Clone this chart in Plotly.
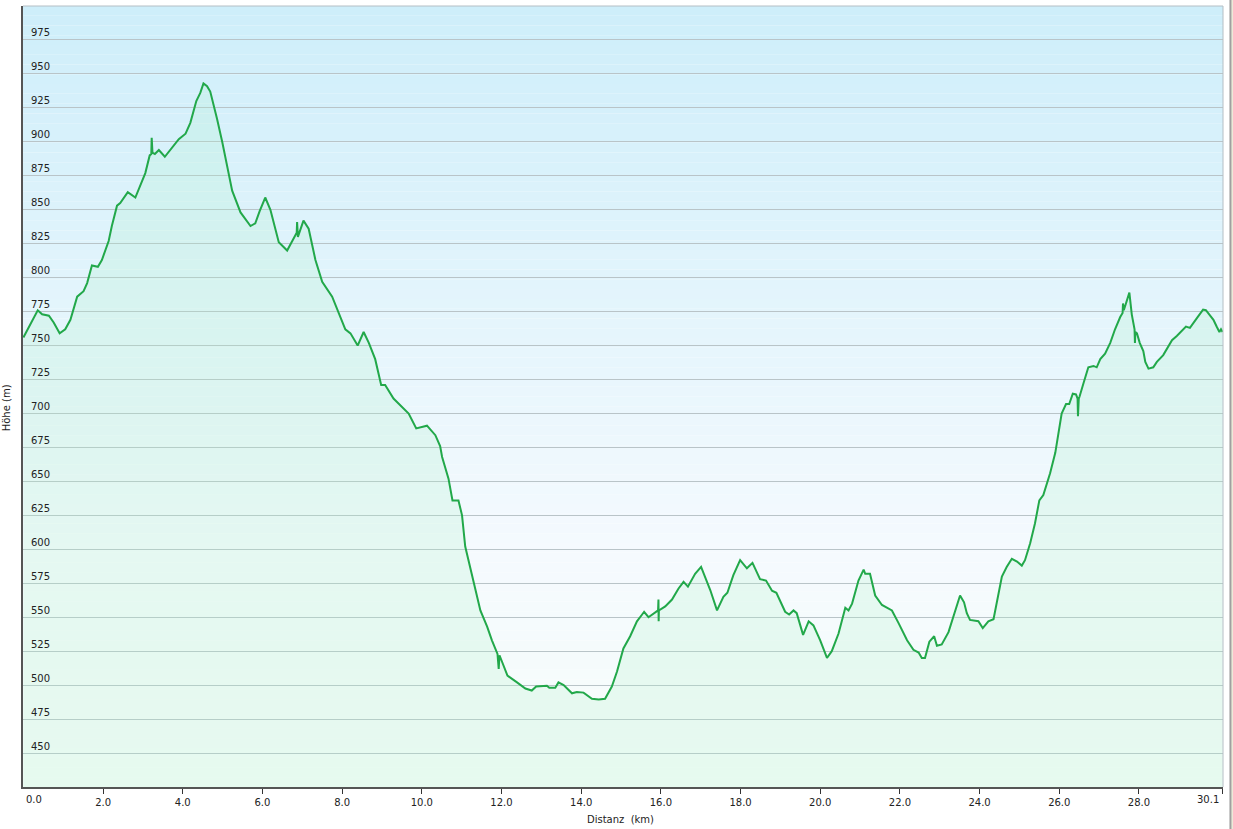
import plotly.graph_objects as go

distanz_km = [
    0.00, 0.26, 0.36, 0.47, 0.64, 0.76, 0.91, 1.05, 1.18, 1.35, 1.51, 1.60, 1.72, 1.87, 1.97,
    2.14, 2.22, 2.35, 2.43, 2.62, 2.81, 3.06, 3.17, 3.21, 3.22, 3.24, 3.30, 3.40, 3.55, 3.90,
    4.07, 4.19, 4.34, 4.44, 4.52, 4.61, 4.69, 4.86, 4.99, 5.24, 5.45, 5.70, 5.82, 5.93, 6.07,
    6.20, 6.41, 6.62, 6.78, 6.86, 6.87, 6.89, 7.03, 7.16, 7.33, 7.50, 7.75, 7.91, 8.08, 8.21,
    8.39, 8.54, 8.67, 8.83, 8.98, 9.08, 9.29, 9.67, 9.86, 10.13, 10.34, 10.46, 10.51, 10.67,
    10.77, 10.92, 11.01, 11.09, 11.26, 11.47, 11.64, 11.76, 11.90, 11.93, 11.95, 12.15, 12.39,
    12.60, 12.76, 12.87, 13.14, 13.20, 13.35, 13.43, 13.56, 13.77, 13.89, 14.06, 14.27, 14.44,
    14.60, 14.77, 14.90, 15.06, 15.23, 15.40, 15.53, 15.58, 15.69, 15.93, 15.94, 15.945, 15.95,
    16.11, 16.28, 16.44, 16.57, 16.68, 16.86, 17.01, 17.11, 17.24, 17.41, 17.57, 17.67, 17.82,
    17.99, 18.16, 18.30, 18.49, 18.64, 18.79, 18.90, 19.12, 19.22, 19.33, 19.41, 19.57, 19.71,
    19.83, 20.00, 20.17, 20.29, 20.46, 20.63, 20.71, 20.80, 20.96, 21.09, 21.13, 21.25, 21.38,
    21.55, 21.80, 21.97, 22.18, 22.34, 22.47, 22.55, 22.63, 22.74, 22.86, 22.93, 23.05, 23.22,
    23.39, 23.51, 23.61, 23.68, 23.76, 23.97, 24.08, 24.22, 24.35, 24.43, 24.56, 24.68, 24.81,
    24.94, 25.06, 25.14, 25.27, 25.39, 25.50, 25.60, 25.77, 25.90, 25.98, 26.06, 26.17, 26.25,
    26.34, 26.42, 26.46, 26.47, 26.49, 26.51, 26.61, 26.73, 26.86, 26.94, 27.03, 27.15, 27.28,
    27.40, 27.53, 27.59, 27.60, 27.62, 27.76, 27.82, 27.89, 27.90, 27.91, 27.95, 28.02, 28.11,
    28.16, 28.24, 28.36, 28.45, 28.61, 28.83, 28.95, 29.18, 29.28, 29.45, 29.61, 29.68, 29.79,
    29.87, 29.95, 30.02, 30.06, 30.10,
]
hoehe_m = [
    756, 771, 776, 773, 772, 767, 759, 762, 769, 786, 790, 796, 809, 808, 813,
    827, 838, 853, 855, 863, 859, 877, 890, 891, 903, 892, 891, 894, 889, 902,
    906, 914, 930, 936, 943, 941, 937, 917, 900, 864, 848, 838, 840, 849, 859,
    850, 826, 820, 829, 833, 841, 830, 842, 836, 813, 797, 786, 774, 762, 759,
    750, 760, 752, 740, 721, 721, 711, 700, 689, 691, 684, 676, 668, 652,
    636, 636, 625, 602, 580, 555, 543, 533, 523, 512, 522, 507, 502,
    497.5, 496, 499, 499.5, 498, 498, 502, 500, 494, 495, 494.5, 490, 489.5,
    490, 499, 510, 527, 536, 547, 552, 554, 550, 555, 563, 547, 555,
    558, 563, 571, 576, 572.5, 582, 587, 580, 570, 555, 565, 568, 581,
    592, 586, 590, 578, 577, 569.5, 568, 554, 552, 555, 553, 537, 547,
    544, 533, 520, 525, 538, 557, 555, 560, 577, 585, 582, 582, 566,
    559, 555, 545.5, 533, 526, 524, 520, 520, 532, 536, 529, 530, 539,
    554, 566, 561, 553, 548, 547, 542, 547, 548.5, 560, 580, 587, 593,
    591, 588, 592, 604.5, 619, 636, 640, 656, 671, 686, 700, 707, 707,
    714.5, 714, 711, 698, 711, 712.5, 722.5, 734, 735, 734, 740, 744, 752,
    762, 771, 774, 781, 776, 789, 773, 762, 752, 760, 759, 752, 746,
    738, 733, 734, 738, 743, 754, 757, 764, 763, 770, 776.5, 776, 772,
    769, 764, 760, 762, 760,
]

x_tick_vals = [0, 2, 4, 6, 8, 10, 12, 14, 16, 18, 20, 22, 24, 26, 28, 30.1]
x_tick_text = ["0.0", "2.0", "4.0", "6.0", "8.0", "10.0", "12.0", "14.0", "16.0",
               "18.0", "20.0", "22.0", "24.0", "26.0", "28.0", "30.1"]
y_tick_vals = [450, 475, 500, 525, 550, 575, 600, 625, 650, 675, 700, 725, 750,
               775, 800, 825, 850, 875, 900, 925, 950, 975]

# end labels are drawn aligned inward (left / right of their tick), like the reference
axis_ticktext = [""] + x_tick_text[1:-1] + [""]

fig = go.Figure()
fig.add_trace(go.Scatter(
    x=distanz_km, y=hoehe_m, mode="lines",
    line=dict(color="#22a84a", width=2),
    fill="tozeroy", fillcolor="rgba(175,240,200,0.22)",
    hoverinfo="skip", showlegend=False,
))

# vertical background gradient: light blue top -> near white -> pale mint bottom
top = (206, 238, 250)
mid = (245, 250, 254)
bot = (246, 253, 250)
n = 80
shapes = []
for i in range(n):
    t = (i + 0.5) / n  # 0 at bottom, 1 at top
    if t > 0.3:
        u = (t - 0.3) / 0.7
        c = tuple(round(mid[k] + (top[k] - mid[k]) * u) for k in range(3))
    else:
        u = t / 0.3
        c = tuple(round(bot[k] + (mid[k] - bot[k]) * u) for k in range(3))
    shapes.append(dict(type="rect", xref="paper", yref="paper",
                       x0=0, x1=1, y0=i / n, y1=(i + 1) / n,
                       fillcolor="rgb(%d,%d,%d)" % c, line=dict(width=0),
                       layer="below"))
# top and right light border
shapes.append(dict(type="line", xref="paper", yref="paper", x0=0, x1=1, y0=1, y1=1,
                   line=dict(color="#b4bec4", width=1)))
shapes.append(dict(type="line", xref="paper", yref="paper", x0=1, x1=1, y0=0, y1=1,
                   line=dict(color="#b4bec4", width=1)))
# window frame strip at the right edge
shapes.append(dict(type="rect", xref="paper", yref="paper", x0=1.0060, x1=1.0110,
                   y0=-0.06, y1=1.01, fillcolor="#ece9d8", line=dict(width=0)))
shapes.append(dict(type="line", xref="paper", yref="paper", x0=1.0062, x1=1.0062,
                   y0=-0.06, y1=1.01, line=dict(color="#a0a0a0", width=2)))

font = dict(family="DejaVu Sans, Verdana, sans-serif", size=10, color="#222222")

fig.update_layout(
    width=1233, height=829,
    margin=dict(l=23, r=10, t=6, b=42, autoexpand=False),
    paper_bgcolor="white", plot_bgcolor="rgba(0,0,0,0)",
    font=font,
    shapes=shapes,
    xaxis=dict(range=[-0.01, 30.11], tickvals=x_tick_vals, ticktext=axis_ticktext,
               showgrid=False, zeroline=False, showline=True, linecolor="#555555",
               linewidth=2, ticks="outside", ticklen=5, tickcolor="#333333",
               tickwidth=1, tickfont=font, automargin=False),
    yaxis=dict(range=[425, 1000], tickvals=y_tick_vals, showgrid=True,
               gridcolor="#b9c4c8", gridwidth=1, zeroline=False, showline=True,
               linecolor="#555555", linewidth=2, ticks="",
               ticklabelposition="inside top", ticklabelstandoff=6, tickfont=font,
               automargin=False),
    annotations=[
        dict(text=x_tick_text[0], xref="x", yref="paper", x=x_tick_vals[0], y=-0.0166,
             xanchor="left", yanchor="middle", xshift=1, showarrow=False, font=font),
        dict(text=x_tick_text[-1], xref="x", yref="paper", x=x_tick_vals[-1], y=-0.0166,
             xanchor="right", yanchor="middle", xshift=-2, showarrow=False, font=font),
        dict(text="Distanz  (km)", xref="paper", yref="paper", x=0.4975, y=-0.041,
             xanchor="center", yanchor="middle", showarrow=False, font=font),
        dict(text="Höhe (m)", xref="paper", yref="paper", x=-0.0072, y=0.486,
             xanchor="right", yanchor="middle", textangle=-90, showarrow=False,
             font=font),
    ],
)

fig.write_html("out.html", config={"displayModeBar": False},
               post_script="document.body.style.margin='0';document.body.style.overflow='hidden';")
